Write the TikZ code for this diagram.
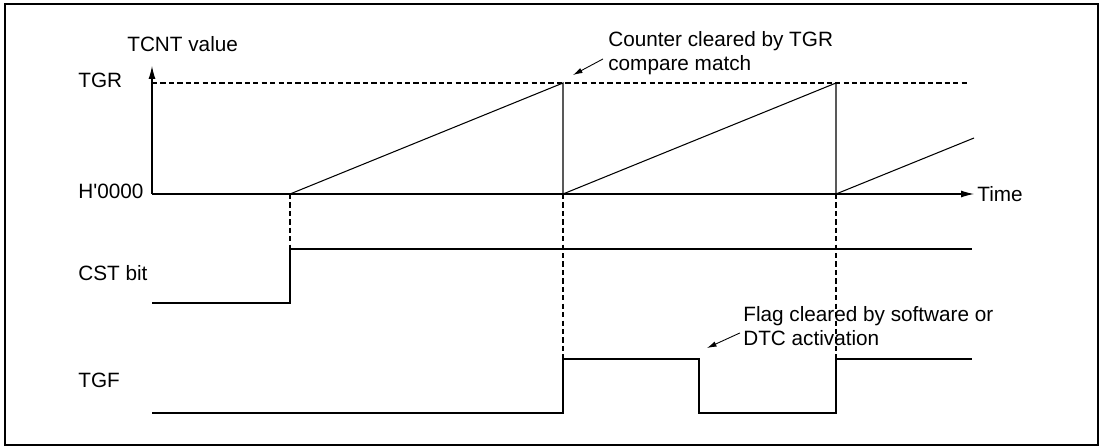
\documentclass[tikz,border=0pt]{standalone}
\usepackage{fontspec}
\setmainfont{Liberation Sans}
\usetikzlibrary{arrows.meta}
\tikzset{
  sig/.style={line width=0.6pt, line join=miter},
  guide/.style={line width=0.6pt, dash pattern=on 3pt off 1.8pt},
  axis/.style={line width=0.6pt, -{Latex[length=2.6mm,width=1.4mm]}},
  pointer/.style={line width=0.5pt, -{Latex[length=1.9mm,width=1.1mm]}},
  lbl/.style={anchor=base west, inner sep=0pt, font=\fontsize{11.8}{13.6}\selectfont},
  note/.style={anchor=north west, inner sep=0pt, align=left, font=\fontsize{11.8}{13.6}\selectfont}
}
\begin{document}
\begin{tikzpicture}[x=0.02cm,y=-0.02cm]
  \useasboundingbox (0,0) rectangle (1103,446);
  % outer frame
  \draw[line width=1.1pt] (5,4) rectangle (1098,445);
  % signal names
  \node[lbl] (tcnt) at (127,52) {TCNT value};
  \node[lbl] (tgr) at (78,88) {TGR};
  \node[lbl] (zero) at (78,198) {H\textquotesingle 0000};
  \node[lbl] (cst) at (78,280) {CST bit};
  \node[lbl] (tgf) at (78,387) {TGF};
  % axes
  \coordinate (origin) at (152,194);
  \coordinate (ytop) at (152,66);
  \coordinate (xend) at (974,194);
  \draw[axis] (origin) -- (ytop);
  \draw[axis] (origin) -- (xend);
  \node[lbl] (time) at (977,201) {Time};
  % TGR level
  \draw[guide] (152,83) -- (968,83);
  % counter sawtooth
  \draw[sig] (290,194) -- (563,83) -- (563,194) -- (836,83) -- (836,194) -- (974,138);
  % timing guides
  \draw[guide] (290,194) -- (290,249);
  \draw[guide] (563,194) -- (563,359);
  \draw[guide] (836,194) -- (836,359);
  % CST bit
  \draw[sig] (152,303) -- (290,303) -- (290,249) -- (972,249);
  % TGF
  \draw[sig] (152,413) -- (563,413) -- (563,359) -- (699,359) -- (699,413)
    -- (836,413) -- (836,359) -- (972,359);
  % notes
  \node[note] (clrnote) at (608,31) {Counter cleared by TGR\\compare match};
  \coordinate (clrpt) at (573,75);
  \draw[pointer] ([shift={(-5,6)}]clrnote.west) -- (clrpt);
  \node[note] (flagnote) at (743,306) {Flag cleared by software or\\DTC activation};
  \coordinate (flagpt) at (707,348);
  \draw[pointer] ([shift={(-3,7)}]flagnote.west) -- (flagpt);
\end{tikzpicture}
\end{document}
